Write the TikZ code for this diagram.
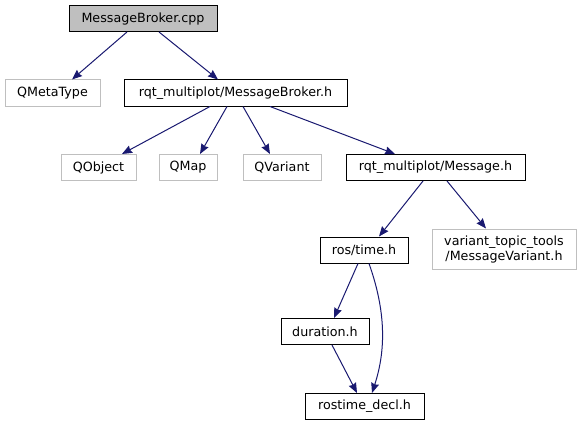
\documentclass[tikz,border=0pt]{standalone}
\usepackage{fontspec}
\setmainfont{DejaVu Sans}
\usetikzlibrary{arrows.meta,calc}
\definecolor{edgeblue}{HTML}{191970}
\definecolor{lgray}{HTML}{BFBFBF}
\begin{document}
\begin{tikzpicture}[x=1pt,y=-1pt,
  box/.style={draw=black,line width=1pt,minimum height=26pt,inner sep=0pt,font=\fontsize{12.7}{15}\selectfont,text=black},
  gbox/.style={box,draw=lgray},
  edge/.style={draw=edgeblue,line width=1pt,-{Stealth[length=10pt,width=8pt,inset=1pt]}}]
\useasboundingbox (0,0) rectangle (585,425);
\node[box,fill=lgray,minimum width=148pt] (cpp) at (143,18.5) {MessageBroker.cpp};
\node[gbox,minimum width=95pt] (qmeta) at (52.5,93) {QMetaType};
\node[box,minimum width=223pt] (mbh) at (235.5,93) {rqt\_multiplot/MessageBroker.h};
\node[gbox,minimum width=75pt] (qobj) at (98.5,167.5) {QObject};
\node[gbox,minimum width=58pt] (qmap) at (188,167.5) {QMap};
\node[gbox,minimum width=78pt] (qvar) at (282,167.5) {QVariant};
\node[box,minimum width=179pt] (msg) at (435.5,167.5) {rqt\_multiplot/Message.h};
\node[box,minimum width=88pt] (time) at (364,250) {ros/time.h};
\node[gbox,minimum width=144pt,minimum height=40pt,align=center] (mvar) at (504,249) {variant\_topic\_tools\\/MessageVariant.h};
\node[box,minimum width=88pt] (dur) at (325,331.5) {duration.h};
\node[box,minimum width=119pt] (decl) at (364.5,406.5) {rostime\_decl.h};

\draw[edge] ([xshift=-16pt]cpp.south) -- ([xshift=19.5pt]qmeta.north);
\draw[edge] ([xshift=16pt]cpp.south) -- ([xshift=-17.5pt]mbh.north);
\draw[edge] ([xshift=-25.5pt]mbh.south) -- ([xshift=23.5pt]qobj.north);
\draw[edge] ([xshift=-8.5pt]mbh.south) -- ([xshift=12pt]qmap.north);
\draw[edge] ([xshift=7.5pt]mbh.south) -- ([xshift=-12pt]qvar.north);
\draw[edge] ([xshift=34.5pt]mbh.south) -- ([xshift=-40.5pt]msg.north);
\draw[edge] ([xshift=-12.5pt]msg.south) -- ([xshift=15pt]time.north);
\draw[edge] ([xshift=11.5pt]msg.south) -- ([xshift=-18pt]mvar.north);
\draw[edge] ([xshift=-6pt]time.south) -- ([xshift=9pt]dur.north);
\draw[edge] ([xshift=5pt]time.south) .. controls +(17,48) and +(14,-43) .. ([xshift=7.5pt]decl.north);
\draw[edge] ([xshift=7pt]dur.south) -- ([xshift=-7.5pt]decl.north);
\end{tikzpicture}
\end{document}
